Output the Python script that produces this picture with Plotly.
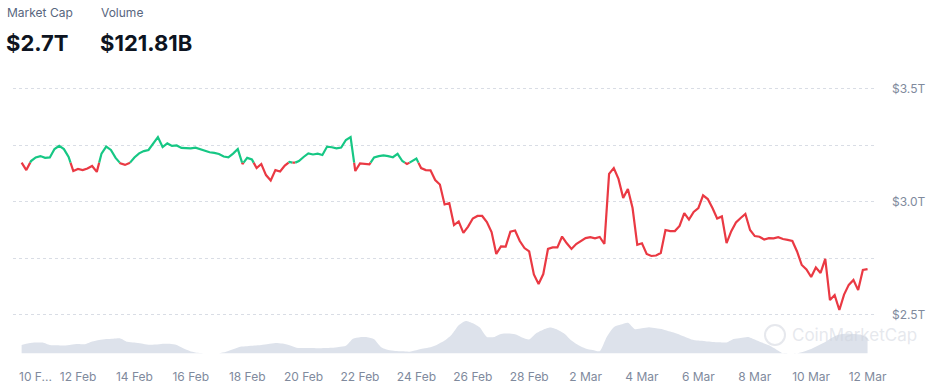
import pandas as pd
import plotly.graph_objects as go

# ---------------- data ----------------
# total crypto market cap (trillion USD), sampled every 4 hours from 10 Feb 2025
mcap_start = "2025-02-10 00:00"
mcap_freq = "4h"
mcap = [
    3.172, 3.139, 3.179, 3.195, 3.201, 3.193, 3.195, 3.232, 3.246, 3.232,
    3.197, 3.135, 3.144, 3.139, 3.146, 3.157, 3.131, 3.212, 3.243, 3.228,
    3.193, 3.169, 3.162, 3.170, 3.195, 3.213, 3.223, 3.228, 3.257, 3.285,
    3.241, 3.257, 3.246, 3.248, 3.237, 3.235, 3.235, 3.238, 3.231, 3.223,
    3.218, 3.215, 3.210, 3.199, 3.195, 3.212, 3.232, 3.166, 3.193, 3.186,
    3.148, 3.166, 3.117, 3.093, 3.139, 3.133, 3.159, 3.175, 3.170, 3.179,
    3.197, 3.213, 3.208, 3.212, 3.206, 3.243, 3.240, 3.235, 3.239, 3.272,
    3.285, 3.135, 3.169, 3.168, 3.164, 3.195, 3.201, 3.204, 3.201, 3.196,
    3.211, 3.179, 3.166, 3.177, 3.190, 3.148, 3.139, 3.138, 3.095, 3.075,
    2.987, 2.993, 2.896, 2.912, 2.861, 2.889, 2.925, 2.936, 2.936, 2.909,
    2.865, 2.768, 2.801, 2.800, 2.867, 2.872, 2.825, 2.794, 2.779, 2.677,
    2.635, 2.679, 2.790, 2.797, 2.797, 2.845, 2.815, 2.790, 2.812, 2.826,
    2.838, 2.842, 2.837, 2.843, 2.812, 3.122, 3.148, 3.100, 3.016, 3.055,
    2.971, 2.808, 2.815, 2.768, 2.759, 2.761, 2.772, 2.874, 2.869, 2.869,
    2.892, 2.949, 2.920, 2.954, 2.971, 3.027, 3.011, 2.971, 2.925, 2.934,
    2.816, 2.869, 2.907, 2.927, 2.945, 2.874, 2.847, 2.844, 2.832, 2.838,
    2.837, 2.842, 2.834, 2.830, 2.825, 2.779, 2.719, 2.699, 2.666, 2.708,
    2.684, 2.746, 2.564, 2.586, 2.520, 2.588, 2.631, 2.653, 2.608, 2.697,
    2.701,
]

# 24h trading volume (billion USD), sampled every 6 hours from 10 Feb 2025
vol_start = "2025-02-10 00:00"
vol_freq = "6h"
volume = [
    67.4, 82.0, 86.9, 87.7, 67.4, 65.0, 62.5, 69.0, 74.7, 73.1,
    95.0, 107.2, 116.1, 118.6, 121.0, 93.4, 86.9, 79.6, 69.0, 71.5,
    78.0, 77.1, 67.4, 39.0, 15.4, 4.1, 0.0, 0.0, 0.0, 12.2,
    32.5, 53.6, 57.7, 62.5, 68.2, 75.5, 84.4, 78.8, 65.0, 45.5,
    43.8, 42.2, 40.6, 43.0, 45.5, 52.0, 60.9, 118.6, 130.7, 129.9,
    113.7, 49.5, 26.8, 18.7, 16.2, 13.0, 25.2, 38.2, 49.5, 71.5,
    103.1, 151.0, 227.4, 262.3, 243.6, 208.7, 132.4, 132.4, 157.5, 160.8,
    155.1, 129.1, 112.9, 163.2, 191.6, 208.7, 191.6, 159.2, 103.9, 65.8,
    39.8, 26.8, 17.1, 132.4, 211.9, 233.0, 248.5, 195.7, 203.0, 211.1,
    203.0, 194.1, 177.0, 158.3, 135.6, 112.1, 103.1, 97.4, 92.6, 89.3,
    88.5, 116.9, 125.0, 133.2, 112.9, 86.9, 65.0, 33.3, 0.0, 0.0,
    0.0, 14.6, 35.7, 63.3, 91.8, 128.3, 151.8, 160.0, 157.5, 151.8,
    121.81,
]

x_ticks = ["2025-02-10", "2025-02-12", "2025-02-14", "2025-02-16", "2025-02-18",
           "2025-02-20", "2025-02-22", "2025-02-24", "2025-02-26", "2025-02-28",
           "2025-03-02", "2025-03-04", "2025-03-06", "2025-03-08", "2025-03-10",
           "2025-03-12"]
x_tick_labels = ["10 F...", "12 Feb", "14 Feb", "16 Feb", "18 Feb", "20 Feb",
                 "22 Feb", "24 Feb", "26 Feb", "28 Feb", "2 Mar", "4 Mar",
                 "6 Mar", "8 Mar", "10 Mar", "12 Mar"]
y_ticks = [2.5, 2.75, 3.0, 3.25, 3.5]
y_tick_labels = ["$2.5T", "", "$3.0T", "", "$3.5T"]

header_cap = "$2.7T"
header_vol = "$121.81B"

# ---------------- build ----------------
mcap_t = list(pd.date_range(mcap_start, periods=len(mcap), freq=mcap_freq))
vol_t = list(pd.date_range(vol_start, periods=len(volume), freq=vol_freq))

GREEN = "#16c784"
RED = "#ea3943"
base = mcap[0]

# split the line into runs above (green) / below (red) the opening value
runs = []
cur_up = mcap[1] >= base
cur = [(mcap_t[0], mcap[0])]
for i in range(len(mcap) - 1):
    a, b = mcap[i], mcap[i + 1]
    ta, tb = mcap_t[i], mcap_t[i + 1]
    up_b = b >= base
    if up_b == cur_up:
        cur.append((tb, b))
    else:
        f = (base - a) / (b - a) if b != a else 0.0
        tc = ta + (tb - ta) * f
        cur.append((tc, base))
        runs.append((cur_up, cur))
        cur_up = up_b
        cur = [(tc, base), (tb, b)]
runs.append((cur_up, cur))

gx, gy, rx, ry = [], [], [], []
for up, pts in runs:
    xs = [p[0] for p in pts] + [None]
    ys = [p[1] for p in pts] + [None]
    if up:
        gx += xs; gy += ys
    else:
        rx += xs; ry += ys

fig = go.Figure()

fig.add_trace(go.Scatter(
    x=vol_t, y=volume, yaxis="y2", mode="lines",
    line=dict(width=0, shape="spline", smoothing=0.6),
    fill="tozeroy", fillcolor="#dde2eb", hoverinfo="skip", showlegend=False,
))
fig.add_trace(go.Scatter(
    x=rx, y=ry, mode="lines", line=dict(color=RED, width=2.2),
    connectgaps=False, showlegend=False,
))
fig.add_trace(go.Scatter(
    x=gx, y=gy, mode="lines", line=dict(color=GREEN, width=2.2),
    connectgaps=False, showlegend=False,
))

W, H = 936, 392
ml, mr, mt, mb = 13, 61, 60, 29
pw, ph = W - ml - mr, H - mt - mb


def px(xp):
    return (xp - ml) / pw


def py(yp):
    return (H - mb - yp) / ph


# first tick label is drawn shifted right (kept inside the chart), as in the original
first_label = x_tick_labels[0]
tick_text = [""] + x_tick_labels[1:]

ann = [
    dict(text="Market Cap", x=px(5), y=py(12), font=dict(size=12, color="#58667e")),
    dict(text="Volume", x=px(99), y=py(12), font=dict(size=12, color="#58667e")),
    dict(text="<b>" + header_cap + "</b>", x=px(4), y=py(43),
         font=dict(size=22, color="#0d1421")),
    dict(text="<b>" + header_vol + "</b>", x=px(98), y=py(43),
         font=dict(size=22, color="#0d1421")),
    dict(text="CoinMarketCap", x=px(790), y=py(335),
         font=dict(size=17, color="rgba(205,210,220,0.5)")),
    dict(text=first_label, x=px(17), y=py(376),
         font=dict(size=12, color="#808a9d")),
]
annotations = []
for a in ann:
    d = dict(xref="paper", yref="paper", xanchor="left", yanchor="middle",
             showarrow=False)
    d.update(a)
    annotations.append(d)

fig.update_layout(
    width=W, height=H,
    margin=dict(l=ml, r=mr, t=mt, b=mb, autoexpand=False),
    paper_bgcolor="white", plot_bgcolor="white",
    font=dict(family="Inter, Roboto, sans-serif", color="#808a9d", size=12),
    showlegend=False,
    annotations=annotations,
    shapes=[dict(type="circle", xref="paper", yref="paper",
                 x0=px(765), x1=px(785), y0=py(345), y1=py(325),
                 line=dict(color="rgba(205,210,220,0.5)", width=2))],
    xaxis=dict(
        type="date", automargin=False,
        range=["2025-02-09 16:40", "2025-03-12 06:20"],
        tickvals=x_ticks, ticktext=tick_text,
        showgrid=False, zeroline=False, showline=False, ticks="",
        tickfont=dict(size=12, color="#808a9d"),
        ticklabelstandoff=5,
    ),
    yaxis=dict(
        side="right", automargin=False, range=[2.2854, 3.6261],
        tickvals=y_ticks, ticktext=y_tick_labels,
        showgrid=True, gridcolor="#d9dde5", griddash="dot", gridwidth=1,
        zeroline=False, showline=False, ticks="",
        tickfont=dict(size=12, color="#808a9d"),
        ticklabelstandoff=16,
    ),
    yaxis2=dict(
        overlaying="y", range=[-78.8, 2381.6], visible=False,
    ),
)

fig.write_html(
    "out.html",
    config={"displayModeBar": False},
    post_script="document.body.style.margin='0px';document.body.style.overflow='hidden';",
)
